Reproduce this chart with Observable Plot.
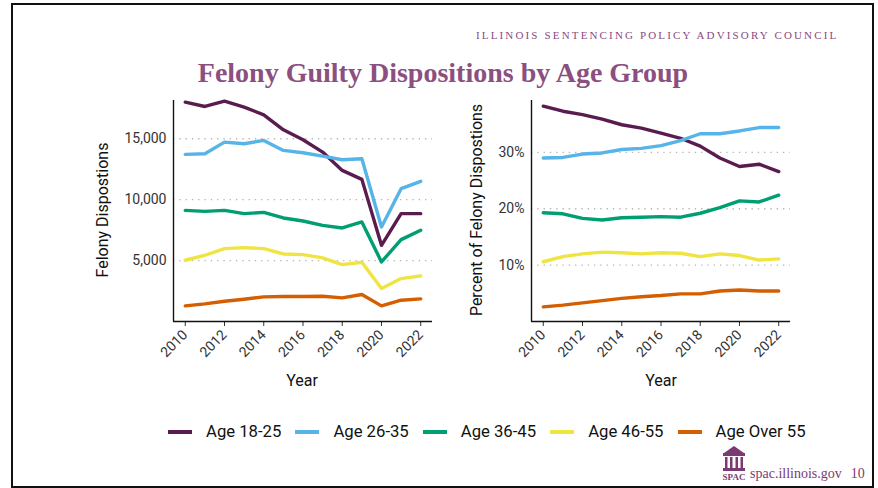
<!DOCTYPE html>
<html><head><meta charset="utf-8">
<script src="https://cdn.jsdelivr.net/npm/d3@7"></script>
<script src="https://cdn.jsdelivr.net/npm/@observablehq/plot@0.6"></script>
<style>
html,body{margin:0;padding:0;background:#fff;}
#page{position:relative;width:878px;height:488px;overflow:hidden;font-family:Roboto,sans-serif;background:#fff;}
#frame{position:absolute;left:11px;top:3px;width:859px;height:481px;border:2px solid #111;}
#header{position:absolute;left:476px;top:29px;white-space:nowrap;font-family:"Liberation Serif",serif;font-size:11px;letter-spacing:2.15px;color:#8a4a7f;}
#title{position:absolute;left:0;width:886px;top:57px;text-align:center;white-space:nowrap;font-family:"Liberation Serif",serif;font-weight:bold;font-size:28px;color:#8b4f80;}
.plot{position:absolute;top:90px;}
.ytitle{position:absolute;font-size:16px;color:#111;white-space:nowrap;transform:translate(-50%,-50%) rotate(-90deg);}
.xtitle{position:absolute;font-size:16px;color:#111;white-space:nowrap;transform:translate(-50%,-50%);}
#legend{position:absolute;left:168px;top:422px;display:flex;align-items:center;white-space:nowrap;}
.item{display:flex;align-items:center;margin-right:14px;}
.sw{width:24px;height:4px;margin-right:14px;}
.lt{font-size:16.7px;color:#111;}
#footer{position:absolute;left:721px;top:446px;display:flex;align-items:flex-end;font-family:"Liberation Serif",serif;color:#7b3a72;}
</style>
</head><body>
<div id="page">
  <div id="frame"></div>
  <div id="header">ILLINOIS SENTENCING POLICY ADVISORY COUNCIL</div>
  <div id="title">Felony Guilty Dispositions by Age Group</div>
  <div id="left" class="plot" style="left:80px"></div>
  <div id="right" class="plot" style="left:440px"></div>
  <div class="ytitle" style="left:102px;top:210px">Felony Dispostions</div>
  <div class="ytitle" style="left:476px;top:210px">Percent of Felony Dispostions</div>
  <div class="xtitle" style="left:302px;top:380px">Year</div>
  <div class="xtitle" style="left:661px;top:380px">Year</div>
  <div id="legend"></div>
  <div id="footer">
    <svg width="26" height="36" viewBox="0 0 26 36">
      <g fill="#7b3a72">
        <polygon points="13,0 3,7 23,7"/>
        <rect x="2" y="7" width="22" height="3"/>
        <rect x="4" y="11" width="2.5" height="11"/>
        <rect x="9" y="11" width="2.5" height="11"/>
        <rect x="14.5" y="11" width="2.5" height="11"/>
        <rect x="19.5" y="11" width="2.5" height="11"/>
        <rect x="2" y="22" width="22" height="3"/>
        <text x="13" y="34" text-anchor="middle" font-family="Liberation Serif,serif" font-weight="bold" font-size="9">SPAC</text>
      </g>
    </svg>
    <span style="font-size:14px;margin-left:3px;line-height:17px">spac.illinois.gov</span>
    <span style="font-size:14px;margin-left:9px;line-height:17px">10</span>
  </div>
</div>
<script>
const years = [2010,2011,2012,2013,2014,2015,2016,2017,2018,2019,2020,2021,2022];
const groups = ["Age 18-25","Age 26-35","Age 36-45","Age 46-55","Age Over 55"];
const colors = ["#5a1c4f","#56B4E9","#009E73","#F0E442","#D55E00"];

// Felony guilty dispositions (counts)
const count18_25 = [18005,17650,18086,17594,16966,15737,14917,13906,12403,11666,6256,8852,8852];
const count26_35 = [13715,13770,14726,14589,14862,14043,13851,13578,13278,13360,7759,10901,11502];
const count36_45 = [9125,9043,9125,8852,8961,8497,8251,7895,7677,8169,4890,6721,7486];
const count46_55 = [5027,5437,5983,6065,5983,5546,5491,5218,4672,4863,2705,3524,3743];
const countOver55 = [1284,1448,1667,1830,2022,2049,2049,2076,1940,2213,1284,1748,1858];

// Percent of felony dispositions
const pct18_25 = [38.2,37.3,36.7,35.9,34.9,34.3,33.4,32.5,31.1,29.0,27.5,27.9,26.6];
const pct26_35 = [29.0,29.1,29.7,29.9,30.5,30.7,31.2,32.1,33.3,33.3,33.8,34.4,34.4];
const pct36_45 = [19.3,19.1,18.3,18.0,18.4,18.5,18.6,18.5,19.2,20.2,21.4,21.2,22.4];
const pct46_55 = [10.6,11.5,12.0,12.3,12.2,12.0,12.2,12.1,11.5,12.0,11.7,10.9,11.1];
const pctOver55 = [2.6,2.9,3.3,3.7,4.1,4.4,4.6,4.9,4.9,5.4,5.6,5.4,5.4];

const countTicks = [5000,10000,15000];
const pctTicks = [10,20,30];
const yearTicks = [2010,2012,2014,2016,2018,2020,2022];

function toRows(series){
  const rows = [];
  series.forEach((vals,i)=>vals.forEach((v,j)=>rows.push({year:years[j],group:groups[i],value:v})));
  return rows;
}
const countRows = toRows([count18_25,count26_35,count36_45,count46_55,countOver55]);
const pctRows = toRows([pct18_25,pct26_35,pct36_45,pct46_55,pctOver55]);

const xDom = [2009.4, 2022.6];

function makePlot(rows, yDomain, yTicks, yFmt, ml, mr){
  return Plot.plot({
    width: 370, height: 310,
    marginLeft: ml, marginRight: mr, marginTop: 10, marginBottom: 79,
    style: {fontFamily: "Roboto, sans-serif", fontSize: "14px", color: "#333", background: "transparent", overflow: "visible"},
    x: {domain: xDom},
    y: {domain: yDomain},
    color: {domain: groups, range: colors},
    marks: [
      Plot.gridY(yTicks, {stroke: "#b3b3b3", strokeOpacity: 1, strokeWidth: 1.3, strokeDasharray: "1.3,5"}),
      Plot.axisY({ticks: yTicks, tickFormat: yFmt, tickSize: 0, tickPadding: 7, label: null, fontSize: 14}),
      Plot.axisX({ticks: yearTicks, tickFormat: d => String(d), tickRotate: -45, tickSize: 5, tickPadding: 6, label: null, fontSize: 14}),
      Plot.line(rows, {x: "year", y: "value", stroke: "group", strokeWidth: 3.4}),
      Plot.ruleX([xDom[0]], {stroke: "#111", strokeWidth: 1.4}),
      Plot.ruleY([yDomain[0]], {stroke: "#111", strokeWidth: 1.4})
    ]
  });
}

document.getElementById("left").append(makePlot(countRows, [0, 18140], countTicks, d3.format(","), 93, 18));
document.getElementById("right").append(makePlot(pctRows, [0, 39.2], pctTicks, d => d + "%", 91, 20));

const legend = document.getElementById("legend");
groups.forEach((g,i)=>{
  const it = document.createElement("div"); it.className = "item";
  const sw = document.createElement("div"); sw.className = "sw"; sw.style.background = colors[i];
  const t = document.createElement("span"); t.className = "lt"; t.textContent = g;
  it.append(sw,t); legend.append(it);
});
</script>
</body></html>
